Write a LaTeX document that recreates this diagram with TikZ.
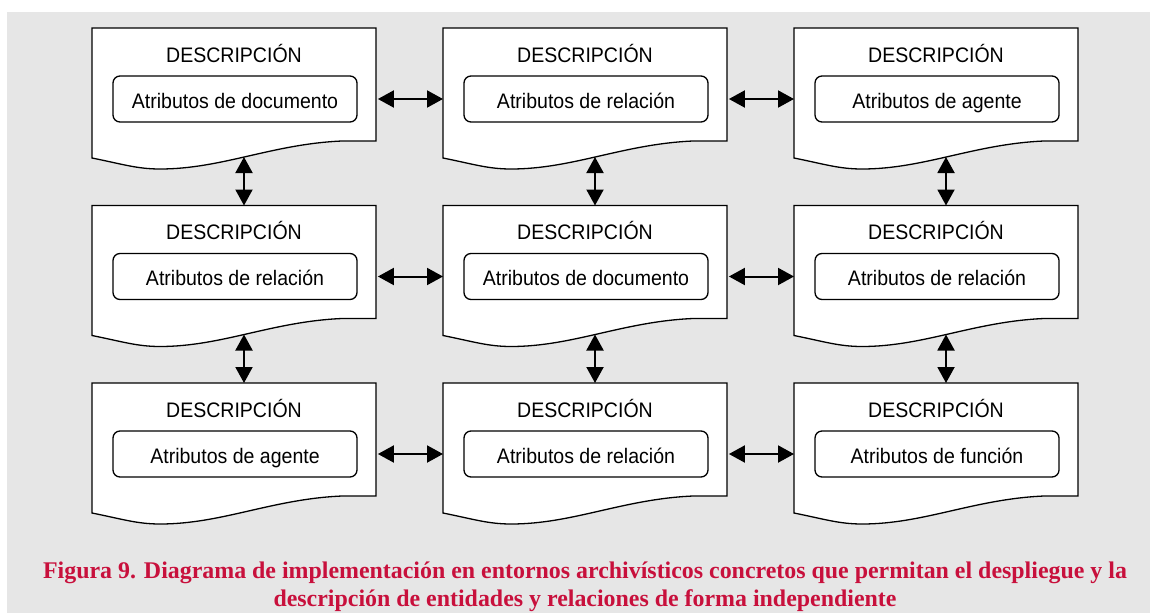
\documentclass[tikz,border=0pt]{standalone}
\usepackage{fontspec}
\setmainfont{Liberation Serif}
\newfontfamily\boxfont[FakeStretch=0.93]{Liberation Sans}
\usetikzlibrary{arrows.meta}
\definecolor{figred}{RGB}{200,16,60}
\definecolor{bggray}{RGB}{230,230,230}

\begin{document}
\begin{tikzpicture}[x=1pt,y=-1pt,
    docshape/.style={draw=black, fill=white, line width=1.3pt},
    boxtext/.style={font=\boxfont\fontsize{21}{24}\selectfont},
    attrbox/.style={boxtext, draw, rounded corners=7pt, line width=1.3pt,
        minimum width=244pt, minimum height=46pt, text height=18pt, text depth=0pt},
    arr/.style={line width=2pt,
        {Triangle[length=16pt,width=17pt]}-{Triangle[length=16pt,width=17pt]}},
    captext/.style={font=\bfseries\fontsize{23.9}{28}\selectfont, text=figred, anchor=base}]
    \useasboundingbox (0,0) rectangle (1150,613);
    \fill[bggray] (7,12) rectangle (1150,613);
    % documents
    \foreach \r/\c/\lab in {1/1/documento,1/2/relación,1/3/agente,
                            2/1/relación,2/2/documento,2/3/relación,
                            3/1/agente,3/2/relación,3/3/función}{
        \pgfmathsetmacro{\xx}{92+351*(\c-1)}
        \pgfmathsetmacro{\yy}{28+177.5*(\r-1)}
        \begin{scope}[shift={(\xx,\yy)}]
            \draw[docshape] (0,0) -- (284,0) -- (284,113) -- (250,113)
                .. controls (180,116) and (130,141) .. (68,141)
                .. controls (45,141) and (30,136) .. (0,130) -- cycle;
            \node[inner sep=0pt, minimum width=284pt, minimum height=113pt,
                anchor=north west] (doc\r\c) at (0,0) {};
            \node[boxtext, anchor=base] (tit\r\c) at (142,34) {DESCRIPCIÓN};
            \node[attrbox] (att\r\c) at (143,71) {Atributos de \lab};
            \coordinate (bot\r\c) at (152,129);
        \end{scope}
    }
    % links
    \foreach \r in {1,2,3}
        \foreach \c/\n in {1/2,2/3}
            \draw[arr] (att\r\c -| doc\r\c.east) ++(1.5,0) -- (att\r\n -| doc\r\n.west);
    \foreach \r/\n in {1/2,2/3}
        \foreach \c in {1,2,3}
            \draw[arr] (bot\r\c) -- (bot\r\c |- doc\n\c.north);
    % caption
    \node[captext] (cap1) at (585,578) {Figura 9. Diagrama de implementación en entornos archivísticos concretos que permitan el despliegue y la};
    \node[captext] (cap2) at (585,606) {descripción de entidades y relaciones de forma independiente};
\end{tikzpicture}
\end{document}
